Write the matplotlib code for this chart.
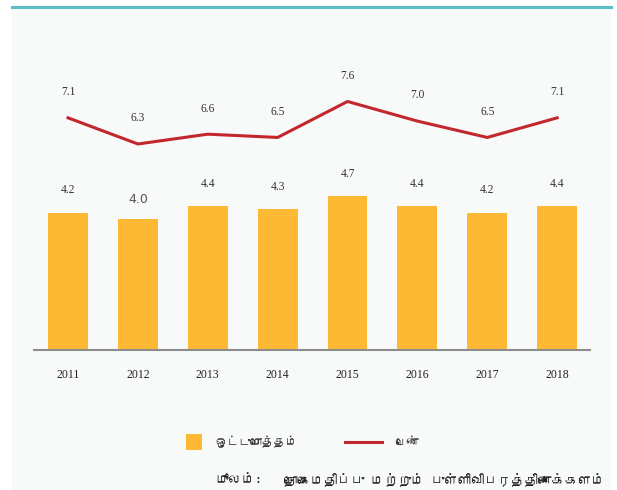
import matplotlib
matplotlib.use("Agg")
import matplotlib.pyplot as plt
from matplotlib import font_manager
from matplotlib.ft2font import FT2Font
from matplotlib.patches import Rectangle
from matplotlib.lines import Line2D

years = ["2011", "2012", "2013", "2014", "2015", "2016", "2017", "2018"]
overall = [4.2, 4.0, 4.4, 4.3, 4.7, 4.4, 4.2, 4.4]
female = [7.1, 6.3, 6.6, 6.5, 7.6, 7.0, 6.5, 7.1]
overall_labels = ["4.2", "4.0", "4.4", "4.3", "4.7", "4.4", "4.2", "4.4"]
female_labels = ["7.1", "6.3", "6.6", "6.5", "7.6", "7.0", "6.5", "7.1"]
legend_overall = "ஒட்டுமொத்தம்"
legend_female = "பெண்"
source_head = "மூலம்:"
source_body = "தொகைமதிப்பு மற்றும் புள்ளிவிபரத்திணைக்களம்"

# find a font with Tamil glyphs, if any
tamil_font = None
for f in font_manager.fontManager.ttflist:
    try:
        ft = FT2Font(f.fname)
        if 0x0BA4 in ft.get_charmap():
            tamil_font = f.name
            break
    except Exception:
        pass
tfam = [tamil_font, "DejaVu Sans"] if tamil_font else ["DejaVu Sans"]

W, H = 617, 490
fig = plt.figure(figsize=(W / 100, H / 100), dpi=100, facecolor="white")

def fx(px):
    return px / W

def fy(py):
    return 1 - py / H

# panel background and teal top line
fig.patches.append(Rectangle((fx(12), 0), fx(611) - fx(12), fy(7), transform=fig.transFigure,
                             facecolor="#f8f9f9", edgecolor="none", zorder=-10))
fig.lines.append(Line2D([fx(12), fx(611)], [fy(7.5), fy(7.5)], transform=fig.transFigure,
                        color="#5bbfc7", lw=2.2, zorder=-5))

ppu = 32.7
ymax = 8.6
ax_left, ax_right = 34, 590
ax_bottom = 350
ax_top = ax_bottom - ymax * ppu
ax = fig.add_axes([fx(ax_left), fy(ax_bottom), fx(ax_right - ax_left), (ax_bottom - ax_top) / H])
ax.set_zorder(5)
ax.set_facecolor("none")
x = list(range(len(years)))
ax.bar(x, overall, width=0.57, color="#fdb933", zorder=2)
ax.plot(x, female, color="#c1272d", lw=2.2, zorder=3)
ax.set_xlim(-0.487, 7.47)
ax.set_ylim(0, ymax)
for s in ["top", "right", "left"]:
    ax.spines[s].set_visible(False)
ax.spines["bottom"].set_color("#8c8c8c")
ax.spines["bottom"].set_linewidth(1.5)
ax.set_yticks([])
ax.set_xticks(x)
ax.set_xticklabels(years, family="Liberation Serif", fontsize=8.5, color="#222222")
ax.tick_params(axis="x", length=0, pad=14)

for i, (v, lab) in enumerate(zip(overall, overall_labels)):
    if i == 1:
        ax.text(i, v + 0.4, lab, ha="center", va="bottom", family="DejaVu Sans",
                fontsize=9, color="#555555")
    else:
        ax.text(i, v + 0.5, lab, ha="center", va="bottom", family="Liberation Serif",
                fontsize=8.3, color="#333333")
for i, (v, lab) in enumerate(zip(female, female_labels)):
    ax.text(i, v + 0.6, lab, ha="center", va="bottom", family="Liberation Serif",
            fontsize=8.3, color="#333333")

# legend
fig.patches.append(Rectangle((fx(186), fy(450)), fx(16), 16 / H, transform=fig.transFigure,
                             facecolor="#fdb933", edgecolor="none", zorder=2))
fig.text(fx(215), fy(442), legend_overall, family=tfam, fontsize=8.5, color="#333333",
         ha="left", va="center")
fig.lines.append(Line2D([fx(345), fx(382)], [fy(442), fy(442)], transform=fig.transFigure,
                        color="#c1272d", lw=2.2, zorder=2))
fig.text(fx(395), fy(442), legend_female, family=tfam, fontsize=8.5, color="#333333",
         ha="left", va="center")

# source
fig.text(fx(605), fy(480), source_body, family=tfam, fontsize=9.6, color="#222222",
         ha="right", va="center")
fig.text(fx(262), fy(480), source_head, family=tfam, fontsize=9.6, style="italic",
         color="#222222", ha="right", va="center")

fig.savefig("out.png", dpi=100, facecolor="white")
